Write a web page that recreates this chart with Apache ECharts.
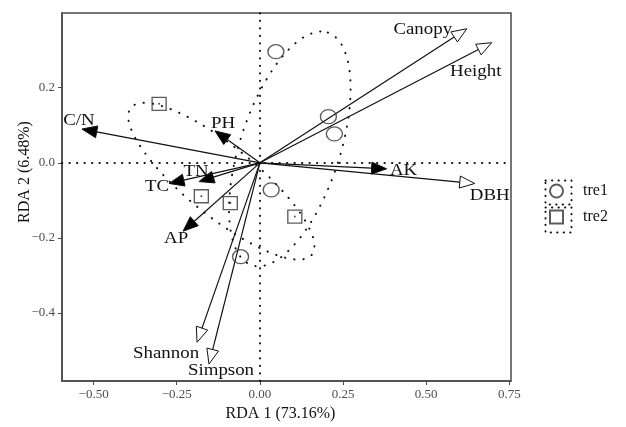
<!DOCTYPE html>
<html>
<head>
<meta charset="utf-8">
<script src="https://cdn.jsdelivr.net/npm/echarts@6/dist/echarts.min.js"></script>
<style>html,body{margin:0;padding:0;background:#fff}#c{width:626px;height:427px}</style>
</head>
<body>
<div id="c"></div>
<script>
// ---- data ----
const xAxisName = 'RDA 1 (73.16%)';
const yAxisName = 'RDA 2 (6.48%)';
const xTicks = [-0.5, -0.25, 0, 0.25, 0.5, 0.75];
const yTicks = [-0.4, -0.2, 0, 0.2];

// soil variables (filled arrowheads)
const envNames = ['C/N', 'PH', 'TN', 'TC', 'AP', 'AK'];
const envX = [-0.535, -0.135, -0.183, -0.273, -0.231, 0.381];
const envY = [0.090, 0.085, -0.050, -0.055, -0.182, -0.016];

// plant variables (hollow arrowheads)
const plantNames = ['Canopy', 'Height', 'DBH', 'Shannon', 'Simpson'];
const plantX = [0.622, 0.697, 0.646, -0.189, -0.153];
const plantY = [0.357, 0.320, -0.055, -0.478, -0.536];

// sample sites
const tre1X = [0.048, 0.206, 0.224, 0.034, -0.058];
const tre1Y = [0.296, 0.123, 0.077, -0.072, -0.250];
const tre2X = [-0.303, -0.176, -0.089, 0.105];
const tre2Y = [0.157, -0.089, -0.107, -0.143];

// group ellipses: centre and two semi-axis vectors (data units)
const tre1Centre = [0.090, 0.037];
const tre1AxisA = [0.114, 0.310];
const tre1AxisB = [0.143, -0.041];
const tre2Centre = [-0.116, -0.049];
const tre2AxisA = [0.272, -0.196];
const tre2AxisB = [-0.067, -0.072];

// ---- styling ----
const SERIF = '"Liberation Serif", "DejaVu Serif", serif';
const labelShift = {
  'C/N': [-3, -8], 'PH': [8, -7], 'TN': [-3, -10], 'TC': [-12, 3], 'AP': [-7, 8], 'AK': [17, 2],
  'Canopy': [-44, 1], 'Height': [-16, 29], 'DBH': [15, 12], 'Shannon': [-31, 11], 'Simpson': [12, 7]
};

function ellipsePoints(c, a, b) {
  const pts = [];
  const n = 72;
  for (let i = 0; i <= n; i++) {
    const t = i / n * Math.PI * 2;
    pts.push([c[0] + a[0] * Math.cos(t) + b[0] * Math.sin(t),
              c[1] + a[1] * Math.cos(t) + b[1] * Math.sin(t)]);
  }
  return pts;
}

function arrowRenderer(names, hollow) {
  return function (params, api) {
    const p1 = api.coord([api.value(0), api.value(1)]);
    const p0 = api.coord([0, 0]);
    const dx = p1[0] - p0[0], dy = p1[1] - p0[1];
    const len = Math.sqrt(dx * dx + dy * dy);
    const ux = dx / len, uy = dy / len;
    const L = 15, W = 6;
    const bx = p1[0] - ux * L, by = p1[1] - uy * L;
    const nx = -uy, ny = ux;
    const name = names[params.dataIndex];
    const sh = labelShift[name] || [0, 0];
    return {
      type: 'group',
      children: [
        { type: 'line', shape: { x1: p0[0], y1: p0[1], x2: bx, y2: by },
          style: { stroke: '#111', lineWidth: 1.2 } },
        { type: 'polygon', shape: { points: [[p1[0], p1[1]], [bx + nx * W, by + ny * W], [bx - nx * W, by - ny * W]] },
          style: { fill: hollow ? '#fff' : '#000', stroke: '#111', lineWidth: 1 } },
        { type: 'text', x: p1[0] + sh[0], y: p1[1] + sh[1], scaleX: 1.18,
          style: { text: name, x: 0, y: 0,
          align: 'center', verticalAlign: 'middle', font: '16px ' + SERIF, fill: '#111' } }
      ]
    };
  };
}

const chart = echarts.init(document.getElementById('c'), null, { renderer: 'canvas' });
const fmt = (d) => (v) => (v < 0 ? '\u2212' : '') + Math.abs(v).toFixed(d);
const dotted = { color: '#111', width: 2, type: [0.3, 9], cap: 'round' };

chart.setOption({
  animation: false,
  backgroundColor: '#fff',
  grid: { left: 62, right: 115, top: 13, bottom: 43, show: true, borderColor: '#4a4a4a', borderWidth: 1.5 },
  xAxis: {
    type: 'value', min: -0.595, max: 0.755,
    name: xAxisName, nameLocation: 'middle', nameGap: 25, nameMoveOverlap: false,
    nameTextStyle: { fontFamily: SERIF, fontSize: 16, color: '#111', padding: [0, 12, 0, 0] },
    axisLine: { show: true, onZero: false, lineStyle: { color: '#4a4a4a', width: 1.5 } },
    axisTick: { show: true, length: 4, customValues: xTicks, lineStyle: { color: '#4a4a4a' } },
    axisLabel: { customValues: xTicks, formatter: fmt(2), fontFamily: SERIF, fontSize: 13, color: '#4d4d4d', margin: 7 },
    splitLine: { show: false }
  },
  yAxis: {
    type: 'value', min: -0.581, max: 0.399,
    name: yAxisName, nameLocation: 'middle', nameGap: 29, nameRotate: 90, nameMoveOverlap: false,
    nameTextStyle: { fontFamily: SERIF, fontSize: 16, color: '#111', padding: [0, 0, 0, 50] },
    axisLine: { show: true, onZero: false, lineStyle: { color: '#4a4a4a', width: 1.5 } },
    axisTick: { show: true, length: 4, customValues: yTicks, lineStyle: { color: '#4a4a4a' } },
    axisLabel: { customValues: yTicks, formatter: fmt(1), fontFamily: SERIF, fontSize: 13, color: '#4d4d4d', margin: 7 },
    splitLine: { show: false }
  },
  legend: {
    orient: 'vertical', left: 549, top: 183, padding: 0, itemWidth: 13, itemHeight: 13, itemGap: 10,
    data: ['tre1', 'tre2'],
    textStyle: { fontFamily: SERIF, fontSize: 16, color: '#111', padding: [0, 0, 0, 15] }
  },
  graphic: [
    { type: 'rect', left: 543, top: 178, shape: { width: 26, height: 24 }, silent: true,
      style: { fill: 'none', stroke: '#111', lineWidth: 2, lineDash: [0.3, 6.2], lineCap: 'round' } },
    { type: 'rect', left: 543, top: 205, shape: { width: 26, height: 25 }, silent: true,
      style: { fill: 'none', stroke: '#111', lineWidth: 2, lineDash: [0.3, 6.2], lineCap: 'round' } }
  ],
  series: [
    {
      name: 'ellipse tre1', type: 'line', data: ellipsePoints(tre1Centre, tre1AxisA, tre1AxisB),
      showSymbol: false, silent: true, lineStyle: dotted, z: 1,
      markLine: {
        silent: true, symbol: 'none', label: { show: false },
        lineStyle: { color: '#111', width: 2, type: [0.3, 7.2], cap: 'round' },
        data: [{ xAxis: 0 }, { yAxis: 0 }]
      }
    },
    {
      name: 'ellipse tre2', type: 'line', data: ellipsePoints(tre2Centre, tre2AxisA, tre2AxisB),
      showSymbol: false, silent: true, lineStyle: dotted, z: 1
    },
    {
      name: 'env', type: 'custom', silent: true, z: 3,
      data: envNames.map((n, i) => [envX[i], envY[i]]),
      encode: { x: 0, y: 1 }, renderItem: arrowRenderer(envNames, false)
    },
    {
      name: 'plant', type: 'custom', silent: true, z: 3,
      data: plantNames.map((n, i) => [plantX[i], plantY[i]]),
      encode: { x: 0, y: 1 }, renderItem: arrowRenderer(plantNames, true)
    },
    {
      name: 'tre1', type: 'scatter', symbol: 'circle', symbolSize: [16, 14], z: 4,
      data: tre1X.map((x, i) => [x, tre1Y[i]]),
      itemStyle: { color: 'rgba(255,255,255,0)', borderColor: '#333', borderWidth: 1.3 }
    },
    {
      name: 'tre2', type: 'scatter', symbol: 'rect', symbolSize: [14, 13], z: 4,
      data: tre2X.map((x, i) => [x, tre2Y[i]]),
      itemStyle: { color: 'rgba(255,255,255,0)', borderColor: '#333', borderWidth: 1.3 }
    },
    {
      name: 'tre2 centre', type: 'scatter', symbol: 'circle', symbolSize: 2, z: 5, silent: true,
      data: tre2X.map((x, i) => [x, tre2Y[i]]),
      itemStyle: { color: '#222' }
    }
  ]
});
</script>
</body>
</html>
